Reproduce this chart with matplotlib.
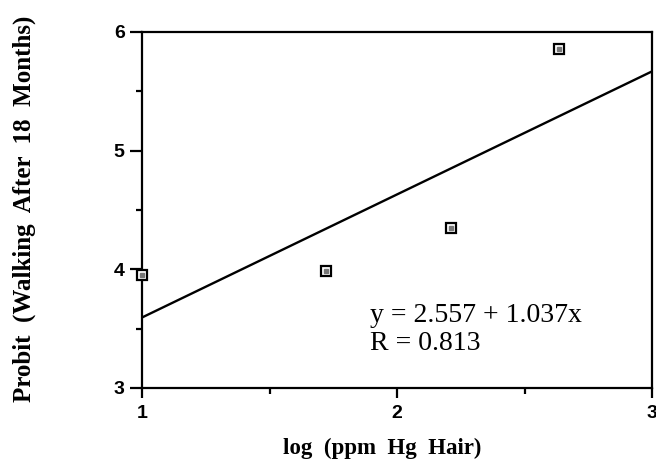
import matplotlib
matplotlib.use("Agg")
import matplotlib.pyplot as plt
import numpy as np
from matplotlib.ticker import MultipleLocator, FixedLocator

# Observed probit values against log hair mercury
log_hg = [1.00, 1.72, 2.21, 2.635]
probit = [3.95, 3.99, 4.35, 5.86]

# Fitted regression line
intercept = 2.557
slope = 1.037
r_value = 0.813

x_ticks = [1, 2, 3]
y_ticks = [3, 4, 5, 6]

fig = plt.figure(figsize=(6.56, 4.61), dpi=100)
ax = fig.add_axes([0.2165, 0.1584, 0.7774, 0.7722])

xf = np.array([1.0, 3.0])
ax.plot(xf, intercept + slope * xf, color="black", lw=1.7, solid_capstyle="butt", zorder=2)

ax.plot(log_hg, probit, ls="none", marker="s", ms=7.5, mfc="white", mec="black", mew=1.6,
        zorder=3, clip_on=False)
ax.plot(log_hg, probit, ls="none", marker="s", ms=2.2, mfc="#777777", mec="#777777",
        zorder=4, clip_on=False)

ax.set_xlim(1, 3)
ax.set_ylim(3, 6)
ax.xaxis.set_major_locator(FixedLocator(x_ticks))
ax.yaxis.set_major_locator(FixedLocator(y_ticks))
ax.xaxis.set_minor_locator(MultipleLocator(0.5))
ax.yaxis.set_minor_locator(MultipleLocator(0.5))

for s in ax.spines.values():
    s.set_linewidth(1.6)

ax.tick_params(which="major", direction="out", length=8.5, width=1.6, labelsize=14)
ax.tick_params(which="minor", direction="out", length=4, width=1.6)
ax.tick_params(axis="y", which="major", pad=4)
ax.tick_params(axis="x", which="major", pad=5, length=7.5)
for lbl in ax.get_xticklabels() + ax.get_yticklabels():
    lbl.set_fontfamily("Liberation Sans")
    lbl.set_fontweight("bold")

serif = "Liberation Serif"
ax.set_xlabel("log  (ppm  Hg  Hair)", family=serif, fontweight="bold", fontsize=16.5)
ax.xaxis.set_label_coords(0.47, -0.14)
ax.set_ylabel("Probit  (Walking  After  18  Months)", family=serif, fontweight="bold",
              fontsize=18)
ax.yaxis.set_label_coords(-0.207, 0.503)

ax.text(0.447, 0.185, f"y = {intercept:.3f} + {slope:.3f}x", transform=ax.transAxes,
        family=serif, fontsize=20, va="baseline")
ax.text(0.447, 0.108, f"R = {r_value:.3f}", transform=ax.transAxes,
        family=serif, fontsize=20, va="baseline")

fig.savefig("out.png", dpi=100)
